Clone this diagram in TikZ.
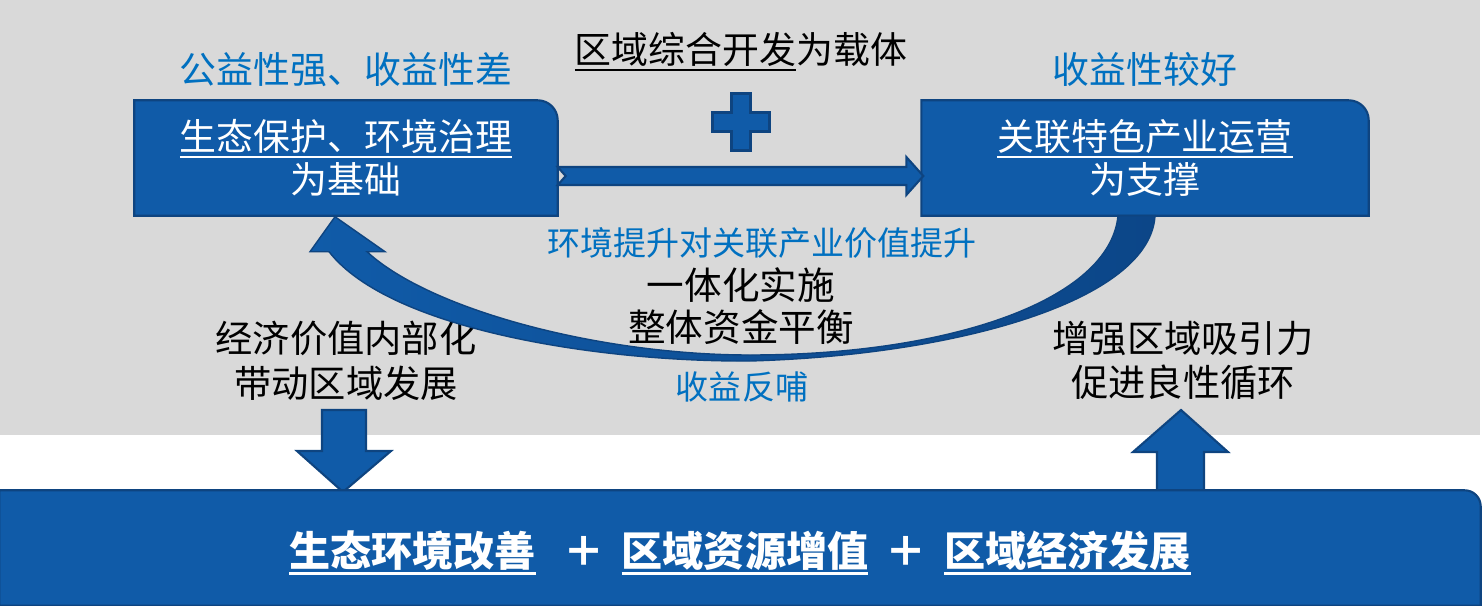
\documentclass[tikz,border=0pt]{standalone}
\usepackage{fontspec}
\setmainfont{Noto Sans CJK SC}
\usepackage{tikz}
\usetikzlibrary{positioning,calc,backgrounds}

\definecolor{boxblue}{RGB}{16,91,168}
\definecolor{boxedge}{RGB}{14,68,128}
\definecolor{curvedark}{RGB}{12,70,136}
\definecolor{bggray}{RGB}{217,217,217}
\definecolor{labelblue}{RGB}{0,112,192}

\newcommand{\ulbar}[1]{\setbox0=\hbox{#1}\leavevmode\rlap{\rule[-0.195em]{\wd0}{0.06em}}\box0}

\begin{document}
\begin{tikzpicture}[x=0.1mm, y=-0.1mm,
    every node/.style={font=\fontsize{10.5}{12.2}\selectfont, align=center, inner sep=0pt},
    box/.style={minimum height=11.4mm, text=white},
    boxfill/.style={fill=boxblue, draw=boxedge, line width=0.6pt},
    bluelabel/.style={text=labelblue, font=\fontsize{9.4}{11}\selectfont}]
  \useasboundingbox (0,0) rectangle (1483,606);

  % boxes
  \node[box, minimum width=42.2mm] (box1) at (346,158) {\ulbar{生态保护、环境治理}\\为基础};
  \node[box, minimum width=44.6mm] (box2) at (1145,158) {\ulbar{关联特色产业运营}\\为支撑};
  \node[box, minimum width=148mm] (base) at (740,548) {};
  \node[text=white, font=\bfseries\fontsize{11.7}{14}\selectfont] (goal) at ($(base.center)+(0,5)$)
    {\ulbar{生态环境改善}\hspace{7.8pt}＋\hspace{4.9pt}\ulbar{区域资源增值}\hspace{4.9pt}＋\hspace{4.9pt}\ulbar{区域经济发展}};

  % labels
  \node[text=labelblue, above=1.3mm of box1] (weak) {公益性强、收益性差};
  \node[text=labelblue, above=1.3mm of box2] (good) {收益性较好};
  \node (carrier) at (741,52) {\ulbar{区域综合开发}为载体};
  \coordinate (plus) at (741,122);
  \node[bluelabel] (lift) at (762,243) {环境提升对关联产业价值提升};
  \node[font=\fontsize{10.7}{11.95}\selectfont] (whole) at (741,306) {一体化实施\\整体资金平衡};
  \node[bluelabel] (feed) at (742,387) {收益反哺};
  \node[font=\fontsize{10.6}{12.7}\selectfont] (inner) at (346,361) {经济价值内部化\\带动区域发展};
  \node[font=\fontsize{10.6}{12.5}\selectfont] (attract) at (1183,360) {增强区域吸引力\\促进良性循环};
  \coordinate (dtip) at (343,492);
  \coordinate (utip) at (1181,410);

  \begin{scope}[on background layer]
    \fill[bggray] (0,0) rectangle (1480,435);
    \draw[boxfill] (dtip) -- ++(-46,-41) -- ++(25,0) -- ++(0,-41) -- ++(44,0) -- ++(0,41) -- ++(25,0) -- cycle;
    \draw[boxfill] (utip) -- ++(-48,42) -- ++(24,0) -- ++(0,40) -- ++(47,0) -- ++(0,-40) -- ++(24,0) -- cycle;
    \draw[boxfill] (base.south west) -- (base.north west) [rounded corners=1.6mm] -- (base.north east) [sharp corners] -- (base.south east) -- cycle;
    \draw[boxfill] (box1.south west) -- (box1.north west) [rounded corners=2mm] -- (box1.north east) [sharp corners] -- (box1.south east) -- cycle;
    \draw[boxfill] (box2.south west) -- (box2.north west) [rounded corners=2mm] -- (box2.north east) [sharp corners] -- (box2.south east) -- cycle;
  \end{scope}

  \draw[boxfill] (plus) ++(-9.5,-28.5) -- ++(19,0) -- ++(0,19) -- ++(19,0) -- ++(0,19) -- ++(-19,0) -- ++(0,19)
    -- ++(-19,0) -- ++(0,-19) -- ++(-19,0) -- ++(0,-19) -- ++(19,0) -- cycle;

  \draw[boxfill] ($(box1.east)+(0,9)$) -- ($(box2.west)+(-15,9)$) -- ++(0,-10) -- ($(box2.west)+(2,18)$)
    -- ($(box2.west)+(-15,37)$) -- ++(0,-10) -- ($(box1.east)+(0,27)$) -- ($(box1.east)+(8,18)$) -- cycle;

  \shadedraw[left color=boxblue, right color=curvedark, draw=boxedge, line width=0.4pt]
    ($(box1.south)+(-11,1)$) -- ($(box1.south)+(39,36)$) -- ($(box1.south)+(21,36)$)
    .. controls (430,310) and (600,355) .. (750,355) .. controls (950,355) and (1110,300) .. ($(box2.south)+(-27,0)$)
    -- ($(box2.south)+(10,0)$) .. controls (1150,300) and (960,355) .. (750,361)
    .. controls (600,362) and (390,330) .. ($(box1.south)+(-17,36)$) -- ($(box1.south)+(-36,36)$) -- cycle;
\end{tikzpicture}
\end{document}
